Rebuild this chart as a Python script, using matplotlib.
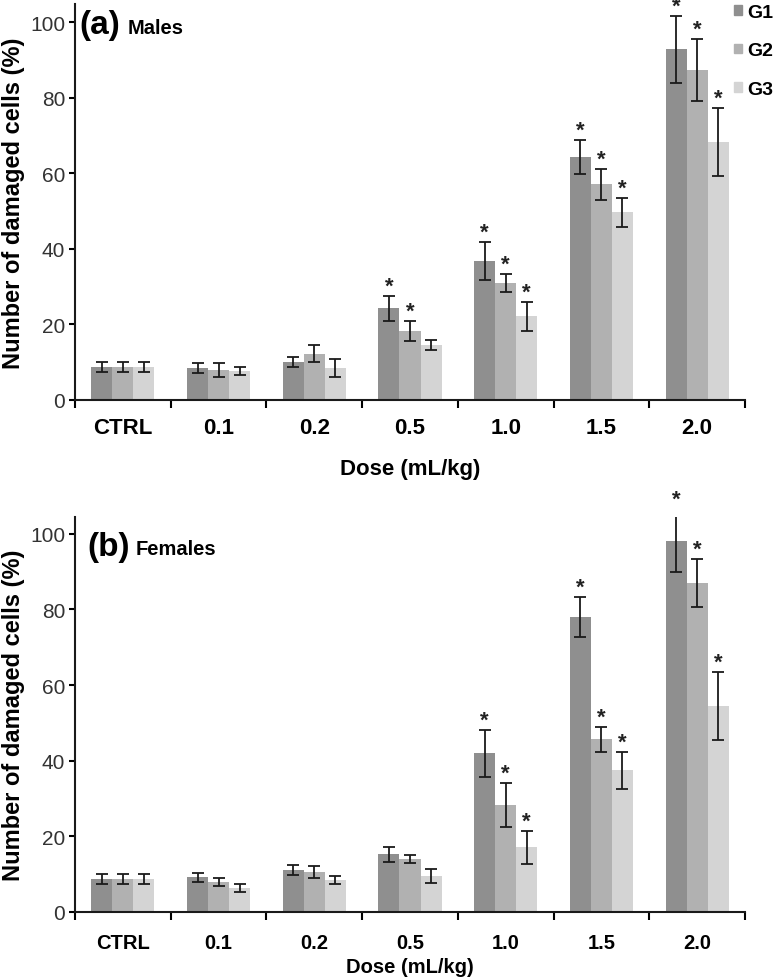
import numpy as np
import matplotlib.pyplot as plt
from matplotlib.patches import Patch

############################### DATA #################################

doses = ['CTRL', '0.1', '0.2', '0.5', '1.0', '1.5', '2.0']
groups = ['G1', 'G2', 'G3']

# males (panel a), mean and error
males_g1 = [8.8, 8.5, 10.0, 24.3, 36.8, 64.3, 92.8]
males_g2 = [8.8, 7.9, 12.3, 18.3, 31.0, 57.1, 87.3]
males_g3 = [8.8, 7.7, 8.4, 14.5, 22.1, 49.7, 68.2]
males_g1_err = [1.3, 1.4, 1.3, 3.3, 5.1, 4.6, 8.8]
males_g2_err = [1.3, 1.9, 2.2, 2.6, 2.3, 4.1, 8.2]
males_g3_err = [1.3, 1.1, 2.4, 1.4, 3.9, 3.8, 9.0]
males_sig_g1 = [0, 0, 0, 1, 1, 1, 1]
males_sig_g2 = [0, 0, 0, 1, 1, 1, 1]
males_sig_g3 = [0, 0, 0, 0, 1, 1, 1]

# females (panel b)
females_g1 = [8.6, 9.1, 11.1, 15.2, 41.9, 77.9, 98.2]
females_g2 = [8.6, 7.9, 10.4, 13.9, 28.2, 45.6, 87.0]
females_g3 = [8.6, 6.2, 8.4, 9.4, 17.0, 37.4, 54.4]
females_g1_err = [1.3, 1.25, 1.3, 2.0, 6.2, 5.3, 8.4]
females_g2_err = [1.3, 1.1, 1.6, 1.1, 5.9, 3.2, 6.4]
females_g3_err = [1.3, 1.1, 1.1, 1.9, 4.4, 4.9, 9.0]
females_sig_g1 = [0, 0, 0, 0, 1, 1, 1]
females_sig_g2 = [0, 0, 0, 0, 1, 1, 1]
females_sig_g3 = [0, 0, 0, 0, 1, 1, 1]

colors = ['#8f8f8f', '#b1b1b1', '#d4d4d4']

plt.rcParams['font.family'] = ['Liberation Sans', 'DejaVu Sans']

fig = plt.figure(figsize=(7.74, 9.79), dpi=100)
ax_a = fig.add_axes([0.0969, 0.5904, 0.8656, 0.4045])
ax_b = fig.add_axes([0.0969, 0.0677, 0.8656, 0.4029])


def draw_panel(ax, means, errs, sigs, top, xsize, tickpad, xlabel_pad):
    x = np.arange(len(doses))
    w = 0.22
    for k in range(3):
        pos = x + (k - 1) * w
        ax.bar(pos, means[k], width=w, color=colors[k], edgecolor='none')
        ax.errorbar(pos, means[k], yerr=errs[k], fmt='none', ecolor='#1a1a1a',
                    elinewidth=1.3, capsize=4, capthick=1.3)
        # significance stars
        for i in range(len(doses)):
            if sigs[k][i]:
                ax.annotate('*', (pos[i], means[k][i] + errs[k][i]), xytext=(0, -0.5),
                            textcoords='offset points', ha='center', va='bottom',
                            fontsize=16, fontweight='bold', color='#222222',
                            annotation_clip=False)
    ax.set_xlim(-0.5, len(doses) - 0.5)
    ax.set_ylim(0, top)
    ax.set_xticks(np.arange(len(doses) + 1) - 0.5)
    ax.set_xticklabels([])
    ax.set_xticks(x, minor=True)
    ax.set_xticklabels(doses, minor=True, fontsize=xsize, fontweight='bold')
    ax.tick_params(axis='x', which='minor', length=0, pad=tickpad)
    ax.tick_params(axis='x', which='major', length=6, width=1.5, direction='out')
    ax.set_yticks([0, 20, 40, 60, 80, 100])
    ax.tick_params(axis='y', length=4, width=1.5, labelsize=15, labelcolor='#333333', pad=3)
    for s in ['top', 'right']:
        ax.spines[s].set_visible(False)
    for s in ['left', 'bottom']:
        ax.spines[s].set_linewidth(1.5)
        ax.spines[s].set_color('#1a1a1a')
    ax.set_ylabel('Number of damaged cells (%)', fontsize=17, fontweight='bold', labelpad=4)
    ax.set_xlabel('Dose (mL/kg)', fontsize=xsize, fontweight='bold', labelpad=xlabel_pad)


draw_panel(ax_a, [males_g1, males_g2, males_g3],
           [males_g1_err, males_g2_err, males_g3_err],
           [males_sig_g1, males_sig_g2, males_sig_g3], 104.8, 16, 12, 15)
draw_panel(ax_b, [females_g1, females_g2, females_g3],
           [females_g1_err, females_g2_err, females_g3_err],
           [females_sig_g1, females_sig_g2, females_sig_g3], 104.4, 14.5, 15, 4)

# panel letters and titles
ax_a.text(0.007, 0.947, '(a)', transform=ax_a.transAxes, fontsize=24,
          fontweight='bold', va='center', ha='left')
ax_a.text(0.079, 0.94, 'Males', transform=ax_a.transAxes, fontsize=14.5,
          fontweight='bold', va='center', ha='left')
ax_b.text(0.019, 0.927, '(b)', transform=ax_b.transAxes, fontsize=24,
          fontweight='bold', va='center', ha='left')
ax_b.text(0.091, 0.92, 'Females', transform=ax_b.transAxes, fontsize=14.5,
          fontweight='bold', va='center', ha='left')

# legend in top right corner
handles = [Patch(color=c) for c in colors]
fig.legend(handles, groups, loc='upper right', bbox_to_anchor=(773 / 774, 1 - 5 / 979),
           frameon=False, handlelength=0.4, handleheight=0.4, handletextpad=0.25,
           labelspacing=1.1, borderpad=0, borderaxespad=0,
           prop={'weight': 'bold', 'size': 14})

fig.savefig('out.png', dpi=100)
